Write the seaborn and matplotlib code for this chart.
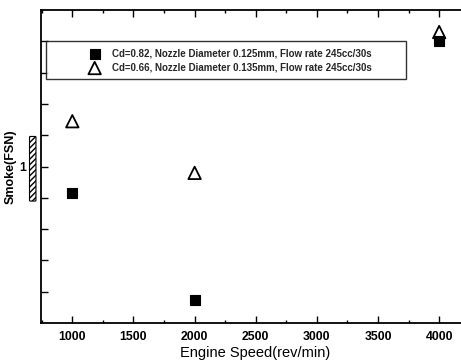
import pandas as pd
import matplotlib
matplotlib.use("Agg")
import matplotlib.pyplot as plt
import seaborn as sns
from matplotlib.patches import FancyBboxPatch
from matplotlib.ticker import MultipleLocator, FixedLocator

# data
speed = [1000, 2000, 4000]
smoke_cd082 = [0.83, 0.15, 1.80]
smoke_cd066 = [1.29, 0.96, 1.86]
label_cd082 = "Cd=0.82, Nozzle Diameter 0.125mm, Flow rate 245cc/30s"
label_cd066 = "Cd=0.66, Nozzle Diameter 0.135mm, Flow rate 245cc/30s"

df_a = pd.DataFrame({"speed": speed, "smoke": smoke_cd082})
df_b = pd.DataFrame({"speed": speed, "smoke": smoke_cd066})

sns.set_theme(style="ticks")
plt.rcParams["font.family"] = ["Liberation Sans", "DejaVu Sans"]

fig = plt.figure(figsize=(4.61, 3.61), dpi=100)
ax = fig.add_axes([0.089, 0.105, 0.93, 0.867])

sns.scatterplot(data=df_a, x="speed", y="smoke", ax=ax, marker="s", s=60,
                color="black", edgecolor="black", linewidth=0.8, label=label_cd082)
sns.scatterplot(data=df_b, x="speed", y="smoke", ax=ax, marker="^", s=80,
                facecolors="none", edgecolor="black", linewidth=1.3, label=label_cd066)

ax.set_xlim(744, 4250)
ax.set_ylim(0.0, 2.0)
ax.xaxis.set_minor_locator(MultipleLocator(250))
ax.set_xticks([1000, 1500, 2000, 2500, 3000, 3500, 4000])
ax.yaxis.set_major_locator(FixedLocator([0.2, 0.4, 0.6, 0.8, 1.0, 1.2, 1.4, 1.6, 1.8]))
ax.set_yticklabels(["", "", "", "", "1", "", "", "", ""])

ax.tick_params(axis="both", which="both", direction="in", top=True, right=False,
               width=1.0, colors="black")
ax.tick_params(axis="both", which="major", length=5, labelsize=8.8)
ax.tick_params(axis="x", which="major", pad=6)
ax.tick_params(axis="y", which="major", pad=11)
ax.tick_params(axis="both", which="minor", length=2)
for lab in ax.get_xticklabels() + ax.get_yticklabels():
    lab.set_fontweight("bold")

for side in ["left", "bottom", "top"]:
    ax.spines[side].set_linewidth(1.3)
    ax.spines[side].set_color("black")
ax.spines["right"].set_visible(False)

ax.set_xlabel("Engine Speed(rev/min)", fontsize=10.5, labelpad=2, color="black")
ax.set_ylabel("Smoke(FSN)", fontsize=9, fontweight="bold", color="black")
ax.yaxis.set_label_coords(-0.056, 0.5)

leg = ax.legend(loc="upper left", bbox_to_anchor=(0.0117, 0.9, 0.84, 0.0),
                mode="expand", fontsize=7, frameon=True, fancybox=False,
                handlelength=8.6, handletextpad=-2.5, borderpad=0.7,
                labelspacing=0.45, borderaxespad=0)
leg.get_frame().set_edgecolor("black")
leg.get_frame().set_linewidth(1.0)
for t in leg.get_texts():
    t.set_fontweight("bold")

# hatched scale mark beside the y axis
fig.patches.append(FancyBboxPatch((0.066, 0.445), 0.010, 0.175,
                                  boxstyle="round,pad=0.002", transform=fig.transFigure,
                                  facecolor="white", edgecolor="black", hatch="//////",
                                  linewidth=0.8))

fig.savefig("out.png", dpi=100)
